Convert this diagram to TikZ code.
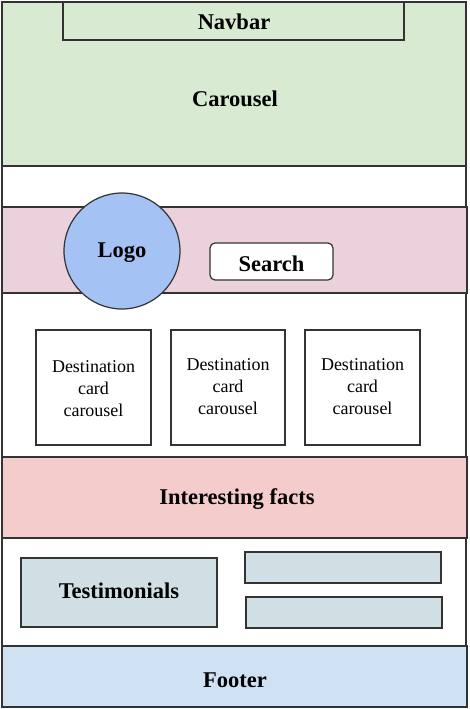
\documentclass[tikz,border=0pt]{standalone}
\usepackage{fontspec}
\setmainfont{Liberation Serif}
\definecolor{cgreen}{HTML}{D9EAD3}
\definecolor{cpink}{HTML}{EAD1DC}
\definecolor{cblue}{HTML}{A4C2F4}
\definecolor{cred}{HTML}{F4CCCC}
\definecolor{cgrey}{HTML}{D0DFE3}
\definecolor{cfoot}{HTML}{CFE2F3}
\definecolor{cline}{HTML}{333333}
\tikzset{
  box/.style={draw=cline, line width=1.2pt},
  lbl/.style={font=\fontsize{22.5}{25}\selectfont\bfseries, inner sep=0pt},
  cardtxt/.style={font=\fontsize{18}{22}\selectfont, align=center, inner sep=0pt},
}
\begin{document}
\begin{tikzpicture}[x=1pt,y=-1pt]
\useasboundingbox (0,0) rectangle (470,709);
% outer frame
\draw[box] (2,2) rectangle (466,707);
% carousel and navbar
\draw[box, fill=cgreen] (2,2) rectangle (466,166);
\node[lbl] (carousel) at (235,99) {Carousel};
\draw[box, fill=cgreen] (63,2) rectangle (404,40);
\node[lbl] (navbar) at (234,22) {Navbar};
% header band
\draw[box, fill=cpink] (2,207) rectangle (467,293);
\node[box, fill=cblue, circle, minimum size=116pt, inner sep=0pt] (logo) at (122,251) {};
\node[lbl] at (122,253) {Logo};
\node[box, fill=white, rounded corners=5pt, minimum width=123pt, minimum height=37pt, inner sep=0pt] (search) at (271.5,261.5) {};
\node[lbl] at (271.5,264) {Search};
% cards
\draw[box] (36,330) rectangle (151,445);
\node[cardtxt] (card1) at (93.5,389) {Destination\\card\\carousel};
\draw[box] (171,330) rectangle (285,445);
\node[cardtxt] (card2) at (228,387) {Destination\\card\\carousel};
\draw[box] (305,330) rectangle (420,445);
\node[cardtxt] (card3) at (362.5,387) {Destination\\card\\carousel};
% interesting facts
\draw[box, fill=cred] (2,457) rectangle (467,538);
\node[lbl] (facts) at (237,499) {Interesting facts};
% testimonials
\draw[box, fill=cgrey] (21,558) rectangle (217,627);
\node[lbl] (testi) at (119,591) {Testimonials};
\draw[box, fill=cgrey] (245,552) rectangle (441,583);
\draw[box, fill=cgrey] (246,597) rectangle (442,628);
% footer
\draw[box, fill=cfoot] (2,646) rectangle (467,707);
\node[lbl] (footer) at (235,680) {Footer};
\end{tikzpicture}
\end{document}
